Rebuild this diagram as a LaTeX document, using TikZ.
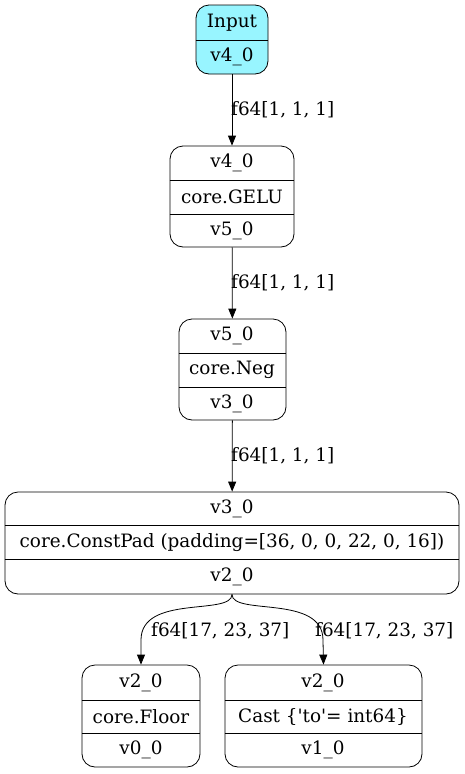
\documentclass[tikz,border=0pt]{standalone}
\usepackage{fontspec}
\setmainfont{DejaVu Serif}
\usetikzlibrary{arrows.meta}
\definecolor{incyan}{HTML}{98F5FF}
\begin{document}
\begin{tikzpicture}[x=1pt,y=-1pt,
  box/.style={draw,line width=0.8pt,rounded corners=13pt,inner sep=0pt},
  lbl/.style={inner sep=0pt,font=\fontsize{18.4}{21}\selectfont},
  elbl/.style={inner sep=0pt,anchor=west,font=\fontsize{18.4}{21}\selectfont},
  edge/.style={line width=0.8pt,-{Triangle[length=10pt,width=8pt]}},
  div/.style={line width=0.8pt}]
\useasboundingbox (0,0) rectangle (464,774);
% Input
\node[box,fill=incyan,minimum width=72,minimum height=69] (inp) at (232,39.5) {};
\draw[div] (inp.west |- 0,40) -- (inp.east |- 0,40);
\node[lbl] (inp1) at (232,22.5) {Input};
\node[lbl] (inp2) at (232,57) {v4\_0};
% GELU
\node[box,minimum width=124,minimum height=101] (gelu) at (232,196.5) {};
\draw[div] (gelu.west |- 0,180) -- (gelu.east |- 0,180);
\draw[div] (gelu.west |- 0,214) -- (gelu.east |- 0,214);
\node[lbl] (gelu1) at (232,163) {v4\_0};
\node[lbl] (gelu2) at (232,197) {core.GELU};
\node[lbl] (gelu3) at (232,230.5) {v5\_0};
% Neg
\node[box,minimum width=107,minimum height=101] (neg) at (232.5,369.5) {};
\draw[div] (neg.west |- 0,353) -- (neg.east |- 0,353);
\draw[div] (neg.west |- 0,387) -- (neg.east |- 0,387);
\node[lbl] (neg1) at (232,336) {v5\_0};
\node[lbl] (neg2) at (232,370) {core.Neg};
\node[lbl] (neg3) at (232,403.5) {v3\_0};
% ConstPad
\node[box,minimum width=454,minimum height=102] (pad) at (232,543) {};
\draw[div] (pad.west |- 0,525) -- (pad.east |- 0,525);
\draw[div] (pad.west |- 0,559) -- (pad.east |- 0,559);
\node[lbl] (pad1) at (232,509) {v3\_0};
\node[lbl] (pad2) at (232,542.5) {core.ConstPad (padding=[36, 0, 0, 22, 0, 16])};
\node[lbl] (pad3) at (232,577) {v2\_0};
% Floor
\node[box,minimum width=118,minimum height=102] (flo) at (141,716) {};
\draw[div] (flo.west |- 0,700) -- (flo.east |- 0,700);
\draw[div] (flo.west |- 0,733) -- (flo.east |- 0,733);
\node[lbl] (flo1) at (141,683) {v2\_0};
\node[lbl] (flo2) at (141,717) {core.Floor};
\node[lbl] (flo3) at (141,750) {v0\_0};
% Cast
\node[box,minimum width=197,minimum height=102] (cas) at (323.5,716) {};
\draw[div] (cas.west |- 0,700) -- (cas.east |- 0,700);
\draw[div] (cas.west |- 0,733) -- (cas.east |- 0,733);
\node[lbl] (cas1) at (323,683) {v2\_0};
\node[lbl] (cas2) at (323,717) {Cast \{\textquotesingle to\textquotesingle= int64\}};
\node[lbl] (cas3) at (323,750) {v1\_0};
% edges
\draw[edge] (inp) -- (gelu);
\node[elbl] (e1) at (231,110) {f64[1, 1, 1]};
\draw[edge] (gelu) -- (neg);
\node[elbl] (e2) at (231,283) {f64[1, 1, 1]};
\draw[edge] (neg) -- (pad);
\node[elbl] (e3) at (231,456) {f64[1, 1, 1]};
\draw[edge] (pad.south) .. controls (232,616) and (141,594) .. (141,640) -- (flo.north);
\node[elbl] (e4) at (151,631) {f64[17, 23, 37]};
\draw[edge] (pad.south) .. controls (232,616) and (323,594) .. (323,640) -- (cas.north);
\node[elbl] (e5) at (315,631) {f64[17, 23, 37]};
\end{tikzpicture}
\end{document}
